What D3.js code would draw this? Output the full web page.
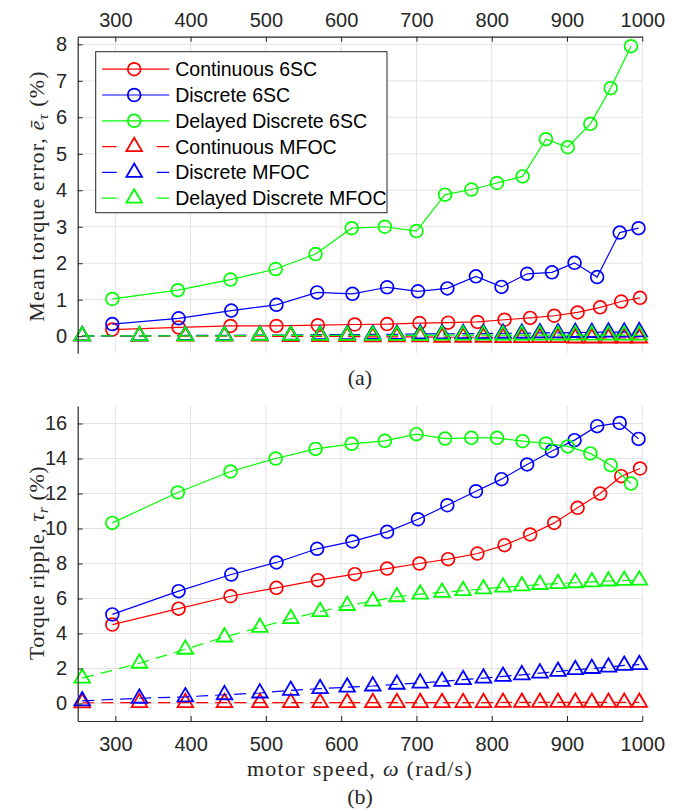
<!DOCTYPE html>
<html>
<head>
<meta charset="utf-8">
<script src="https://cdn.jsdelivr.net/npm/d3@7"></script>
<style>
  body { margin: 0; background: #fff; }
  .tick text { font-family: "Liberation Sans", Arial, sans-serif; font-size: 20px; fill: #262626; }
  .serif { font-family: "Liberation Serif", "Times New Roman", serif; font-size: 22px; fill: #262626; }
</style>
</head>
<body>
<script>
// speeds (rad/s) for each series
var speedCont6sc = [296, 384, 453, 514, 569, 618, 661, 704, 742, 781, 817, 851, 883, 914, 944, 972, 997];
var speedDisc6sc = [296, 384, 454, 514, 568, 615, 661, 702, 741, 779, 813, 847, 880, 910, 940, 970, 995];
var speedDel6sc  = [296, 383, 453, 513, 566, 614, 658, 700, 738, 773, 807, 841, 872, 901, 931, 958, 985];
var speedMfoc    = [256, 332, 393, 445, 492, 533, 572, 608, 642, 674, 705, 734, 762, 789, 815, 840, 864, 888, 911, 933, 955, 976, 996];

// (a) mean torque error (%)
var errCont6sc = [0.18, 0.24, 0.28, 0.28, 0.30, 0.32, 0.33, 0.36, 0.37, 0.39, 0.45, 0.50, 0.56, 0.65, 0.79, 0.95, 1.05];
var errDisc6sc = [0.33, 0.49, 0.70, 0.86, 1.20, 1.16, 1.34, 1.23, 1.31, 1.64, 1.35, 1.71, 1.75, 2.01, 1.62, 2.84, 2.96];
var errDel6sc  = [1.02, 1.26, 1.55, 1.84, 2.25, 2.96, 3.00, 2.88, 3.88, 4.02, 4.20, 4.38, 5.40, 5.18, 5.82, 6.80, 7.95];
var errContMfoc = [0.01, 0.00, 0.00, 0.00, 0.00, -0.01, -0.01, -0.01, -0.02, -0.02, -0.02, -0.03, -0.03, -0.03, -0.04, -0.04, -0.04, -0.04, -0.05, -0.05, -0.05, -0.05, -0.05];
var errDiscMfoc = [0.01, 0.01, 0.02, 0.02, 0.03, 0.03, 0.04, 0.04, 0.05, 0.05, 0.06, 0.06, 0.07, 0.07, 0.08, 0.08, 0.09, 0.09, 0.10, 0.10, 0.11, 0.11, 0.12];
var errDelMfoc  = [0.01, 0.01, 0.01, 0.01, 0.02, 0.02, 0.02, 0.02, 0.02, 0.02, 0.02, 0.03, 0.03, 0.03, 0.03, 0.03, 0.03, 0.03, 0.03, 0.03, 0.03, 0.03, 0.03];

// (b) torque ripple (%)
var ripCont6sc = [4.51, 5.42, 6.13, 6.61, 7.05, 7.39, 7.71, 8.00, 8.25, 8.57, 9.05, 9.66, 10.32, 11.18, 12.00, 12.99, 13.43];
var ripDisc6sc = [5.09, 6.42, 7.37, 8.06, 8.84, 9.26, 9.81, 10.53, 11.33, 12.13, 12.82, 13.66, 14.43, 15.05, 15.85, 16.03, 15.12];
var ripDel6sc  = [10.32, 12.06, 13.26, 14.00, 14.55, 14.84, 15.01, 15.39, 15.14, 15.18, 15.18, 14.99, 14.86, 14.69, 14.29, 13.62, 12.57];
var ripContMfoc = [0.04, 0.05, 0.05, 0.05, 0.05, 0.05, 0.05, 0.05, 0.05, 0.05, 0.05, 0.05, 0.05, 0.05, 0.06, 0.06, 0.06, 0.06, 0.06, 0.06, 0.06, 0.06, 0.06];
var ripDiscMfoc = [0.15, 0.30, 0.38, 0.50, 0.60, 0.75, 0.85, 0.93, 1.00, 1.10, 1.17, 1.26, 1.36, 1.45, 1.55, 1.64, 1.74, 1.83, 1.93, 2.00, 2.08, 2.18, 2.22];
var ripDelMfoc  = [1.45, 2.30, 3.10, 3.80, 4.35, 4.85, 5.25, 5.60, 5.85, 6.10, 6.25, 6.35, 6.45, 6.55, 6.65, 6.72, 6.80, 6.85, 6.90, 6.95, 7.00, 7.03, 7.05];

var seriesNames = ["Continuous 6SC", "Discrete 6SC", "Delayed Discrete 6SC",
                   "Continuous MFOC", "Discrete MFOC", "Delayed Discrete MFOC"];
var seriesColors = ["#ff0000", "#0000ff", "#00ff00", "#ff0000", "#0000ff", "#00ff00"];
var seriesMarkers = ["circle", "circle", "circle", "triangle", "triangle", "triangle"];

var xTicks = [300, 400, 500, 600, 700, 800, 900, 1000];
var yTicksA = [0, 1, 2, 3, 4, 5, 6, 7, 8];
var yTicksB = [0, 2, 4, 6, 8, 10, 12, 14, 16];

var axisColor = "#262626";
var gridColor = "#e3e3e3";

var svg = d3.select("body").append("svg")
  .attr("width", 688)
  .attr("height", 811);

var x = d3.scaleLinear().domain([250, 1000]).range([77.7, 642.3]);

function zip(xs, ys) {
  return xs.map(function(v, i) { return [v, ys[i]]; });
}

var triPath = "M0,-8.9 L7.8,4.5 L-7.8,4.5 Z";

function draw_marker(g, kind, color) {
  if (kind == "circle") {
    return g.append("circle").attr("r", 6.4)
      .attr("fill", "none").attr("stroke", color).attr("stroke-width", 1.7);
  }
  return g.append("path").attr("d", triPath)
    .attr("fill", "none").attr("stroke", color).attr("stroke-width", 1.8)
    .attr("stroke-linejoin", "miter");
}

function build_panel(y, yTicks, data, topAxis) {
  var g = svg.append("g");
  var y0 = y.range()[1], y1 = y.range()[0];
  var x0 = x.range()[0], x1 = x.range()[1];

  // grid
  g.selectAll(".vgrid").data(xTicks).enter().append("line")
    .attr("x1", function(d) { return x(d); }).attr("x2", function(d) { return x(d); })
    .attr("y1", y0).attr("y2", y1)
    .attr("stroke", gridColor).attr("stroke-width", 1);
  g.selectAll(".hgrid").data(yTicks).enter().append("line")
    .attr("x1", x0).attr("x2", x1)
    .attr("y1", function(d) { return y(d); }).attr("y2", function(d) { return y(d); })
    .attr("stroke", gridColor).attr("stroke-width", 1);

  // series
  var line = d3.line().x(function(d) { return x(d[0]); }).y(function(d) { return y(d[1]); });
  data.forEach(function(s, i) {
    var pts = zip(s.speed, s.values);
    g.append("path").datum(pts)
      .attr("d", line)
      .attr("fill", "none")
      .attr("stroke", seriesColors[i])
      .attr("stroke-width", 1.2)
      .attr("stroke-dasharray", seriesMarkers[i] == "triangle" ? "12,7" : null);
    pts.forEach(function(p) {
      var m = g.append("g").attr("transform", "translate(" + x(p[0]) + "," + y(p[1]) + ")");
      draw_marker(m, seriesMarkers[i], seriesColors[i]);
    });
  });

  // axes
  var xAxis = topAxis ? d3.axisTop(x) : d3.axisBottom(x);
  xAxis.tickValues(xTicks).tickFormat(d3.format("d"))
    .tickSizeInner(-5).tickSizeOuter(0)
    .tickPadding(topAxis ? 10 : 16);
  var gx = g.append("g")
    .attr("transform", "translate(0," + (topAxis ? y0 : y1) + ")")
    .call(xAxis);

  var yAxis = d3.axisLeft(y).tickValues(yTicks).tickSizeInner(-5).tickSizeOuter(0).tickPadding(10.5);
  var gy = g.append("g")
    .attr("transform", "translate(" + x0 + ",0)")
    .call(yAxis);

  [gx, gy].forEach(function(a) {
    a.select(".domain").attr("stroke", axisColor).attr("stroke-width", 1.2);
    a.selectAll(".tick line").attr("stroke", axisColor);
    a.selectAll(".tick text").attr("fill", axisColor);
  });
  return g;
}

var yA = d3.scaleLinear().domain([-0.47, 8.21]).range([353.3, 36.7]);
var yB = d3.scaleLinear().domain([-1, 17]).range([721, 406]);

var gA = build_panel(yA, yTicksA, [
  {speed: speedCont6sc, values: errCont6sc},
  {speed: speedDisc6sc, values: errDisc6sc},
  {speed: speedDel6sc, values: errDel6sc},
  {speed: speedMfoc, values: errContMfoc},
  {speed: speedMfoc, values: errDiscMfoc},
  {speed: speedMfoc, values: errDelMfoc}
], true);

build_panel(yB, yTicksB, [
  {speed: speedCont6sc, values: ripCont6sc},
  {speed: speedDisc6sc, values: ripDisc6sc},
  {speed: speedDel6sc, values: ripDel6sc},
  {speed: speedMfoc, values: ripContMfoc},
  {speed: speedMfoc, values: ripDiscMfoc},
  {speed: speedMfoc, values: ripDelMfoc}
], false);

// legend (panel a)
var legend = gA.append("g").attr("transform", "translate(95.7,51.7)");
legend.append("rect")
  .attr("width", 291.3).attr("height", 161)
  .attr("fill", "#fff").attr("stroke", axisColor).attr("stroke-width", 1);
seriesNames.forEach(function(name, i) {
  var row = legend.append("g").attr("transform", "translate(0," + (17.5 + i * 25.8) + ")");
  row.append("line")
    .attr("x1", 6.5).attr("x2", 73.5).attr("y1", 0).attr("y2", 0)
    .attr("stroke", seriesColors[i]).attr("stroke-width", 1.2)
    .attr("stroke-dasharray", seriesMarkers[i] == "triangle" ? "14.5,40" : null);
  var m = row.append("g").attr("transform", "translate(38.5,0)");
  draw_marker(m, seriesMarkers[i], seriesColors[i]);
  row.append("text")
    .attr("x", 79.5).attr("y", 7)
    .style("font-family", "'Liberation Sans', Arial, sans-serif")
    .style("font-size", "19.5px")
    .attr("fill", "#000")
    .text(name);
});

// axis labels
var labA = svg.append("text").attr("class", "serif")
  .attr("transform", "translate(44,196) rotate(-90)")
  .attr("text-anchor", "middle")
  .style("letter-spacing", "1.1px");
labA.append("tspan").text("Mean torque error, ");
labA.append("tspan").style("font-style", "italic").text("ē");
labA.append("tspan").style("font-style", "italic").style("font-size", "15px").attr("dy", 4).text("τ");
labA.append("tspan").attr("dy", -4).text(" (%)");

var labB = svg.append("text").attr("class", "serif")
  .attr("transform", "translate(44,563) rotate(-90)")
  .attr("text-anchor", "middle")
  .style("letter-spacing", "0.6px");
labB.append("tspan").text("Torque ripple, ");
labB.append("tspan").style("font-style", "italic").text("τ");
labB.append("tspan").style("font-style", "italic").style("font-size", "15px").attr("dy", 4).text("r");
labB.append("tspan").attr("dy", -4).text(" (%)");

var labX = svg.append("text").attr("class", "serif")
  .attr("x", 360).attr("y", 776)
  .attr("text-anchor", "middle")
  .style("letter-spacing", "1.3px");
labX.append("tspan").text("motor speed, ");
labX.append("tspan").style("font-style", "italic").text("ω");
labX.append("tspan").text(" (rad/s)");

svg.append("text").attr("class", "serif")
  .attr("x", 360).attr("y", 385).attr("text-anchor", "middle").text("(a)");
svg.append("text").attr("class", "serif")
  .attr("x", 360).attr("y", 804).attr("text-anchor", "middle").text("(b)");
</script>
</body>
</html>
